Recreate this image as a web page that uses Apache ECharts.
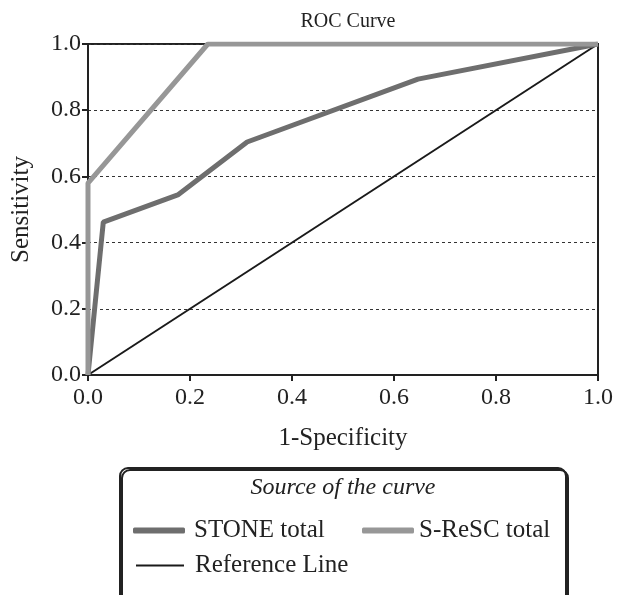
<!DOCTYPE html>
<html>
<head>
<meta charset="utf-8">
<script src="https://cdn.jsdelivr.net/npm/echarts@6/dist/echarts.min.js"></script>
<style>
  html, body { margin: 0; padding: 0; background: #fff; }
  #chart { width: 627px; height: 595px; }
</style>
</head>
<body>
<div id="chart"></div>
<script>
  // ROC curve points
  const stoneX = [0, 0.03, 0.176, 0.312, 0.647, 1];
  const stoneY = [0, 0.462, 0.544, 0.704, 0.894, 1];
  const srescX = [0, 0, 0.235, 1];
  const srescY = [0, 0.58, 1, 1];
  const refX = [0, 1];
  const refY = [0, 1];

  const pairs = (xs, ys) => xs.map((x, i) => [x, ys[i]]);
  const serif = 'Liberation Serif';
  const ink = '#222';

  let myChart = echarts.init(document.getElementById('chart'));
  myChart.setOption({
    animation: false,
    textStyle: { fontFamily: serif },
    title: {
      text: 'ROC Curve',
      left: 343,
      textAlign: 'center',
      top: 7,
      textStyle: { fontFamily: serif, fontSize: 20, fontWeight: 'normal', color: ink }
    },
    grid: {
      left: 88,
      right: 29,
      top: 44,
      bottom: 220,
      show: true,
      borderColor: ink,
      borderWidth: 2
    },
    xAxis: {
      type: 'value',
      min: 0,
      max: 1,
      interval: 0.2,
      name: '1-Specificity',
      nameLocation: 'middle',
      nameGap: 51,
      nameTextStyle: { fontFamily: serif, fontSize: 25, color: ink },
      axisLine: { lineStyle: { color: ink, width: 2 } },
      axisTick: { show: true, length: 6, lineStyle: { color: ink, width: 2 } },
      axisLabel: {
        fontFamily: serif, fontSize: 24, color: ink, margin: 11,
        formatter: v => v.toFixed(1)
      },
      splitLine: { show: false }
    },
    yAxis: {
      type: 'value',
      min: 0,
      max: 1,
      interval: 0.2,
      name: 'Sensitivity',
      nameLocation: 'middle',
      nameGap: 54,
      nameTextStyle: { fontFamily: serif, fontSize: 25, color: ink },
      axisLine: { lineStyle: { color: ink, width: 2 } },
      axisTick: { show: true, length: 6, lineStyle: { color: ink, width: 2 } },
      axisLabel: {
        fontFamily: serif, fontSize: 24, color: ink, margin: 7,
        formatter: v => v.toFixed(1)
      },
      splitLine: { show: true, lineStyle: { type: [3, 3], color: '#333', width: 1 } }
    },
    legend: [
      {
        data: ['STONE total'], left: 128, top: 513, itemWidth: 52, itemHeight: 6,
        icon: 'roundRect',
        textStyle: { fontFamily: serif, fontSize: 25, color: ink, padding: [0, 0, 0, 4] }
      },
      {
        data: ['S-ReSC total'], left: 357, top: 513, itemWidth: 52, itemHeight: 6,
        icon: 'roundRect',
        textStyle: { fontFamily: serif, fontSize: 25, color: ink, padding: [0, 0, 0, 0] }
      },
      {
        data: ['Reference Line'], left: 131, top: 548, itemWidth: 48, itemHeight: 2,
        icon: 'rect',
        textStyle: { fontFamily: serif, fontSize: 25, color: ink, padding: [0, 0, 0, 6] }
      }
    ],
    graphic: [
      {
        type: 'rect',
        shape: { x: 120, y: 468, width: 446, height: 150, r: 8 },
        style: {
          fill: '#fff', stroke: ink, lineWidth: 2,
          shadowColor: ink, shadowOffsetX: 2, shadowOffsetY: 2
        },
        z: -10
      },
      {
        type: 'text',
        style: {
          x: 343, y: 488, text: 'Source of the curve',
          align: 'center', verticalAlign: 'middle',
          font: 'italic 24px "Liberation Serif"', fill: ink
        }
      }
    ],
    series: [
      {
        name: 'Reference Line',
        type: 'line',
        data: pairs(refX, refY),
        symbol: 'none',
        color: '#1a1a1a',
        lineStyle: { color: '#1a1a1a', width: 2 }
      },
      {
        name: 'STONE total',
        type: 'line',
        data: pairs(stoneX, stoneY),
        symbol: 'none',
        color: '#6e6e6e',
        lineStyle: { color: '#6e6e6e', width: 5 }
      },
      {
        name: 'S-ReSC total',
        type: 'line',
        data: pairs(srescX, srescY),
        symbol: 'none',
        color: '#979797',
        lineStyle: { color: '#979797', width: 5 }
      }
    ]
  });
</script>
</body>
</html>
